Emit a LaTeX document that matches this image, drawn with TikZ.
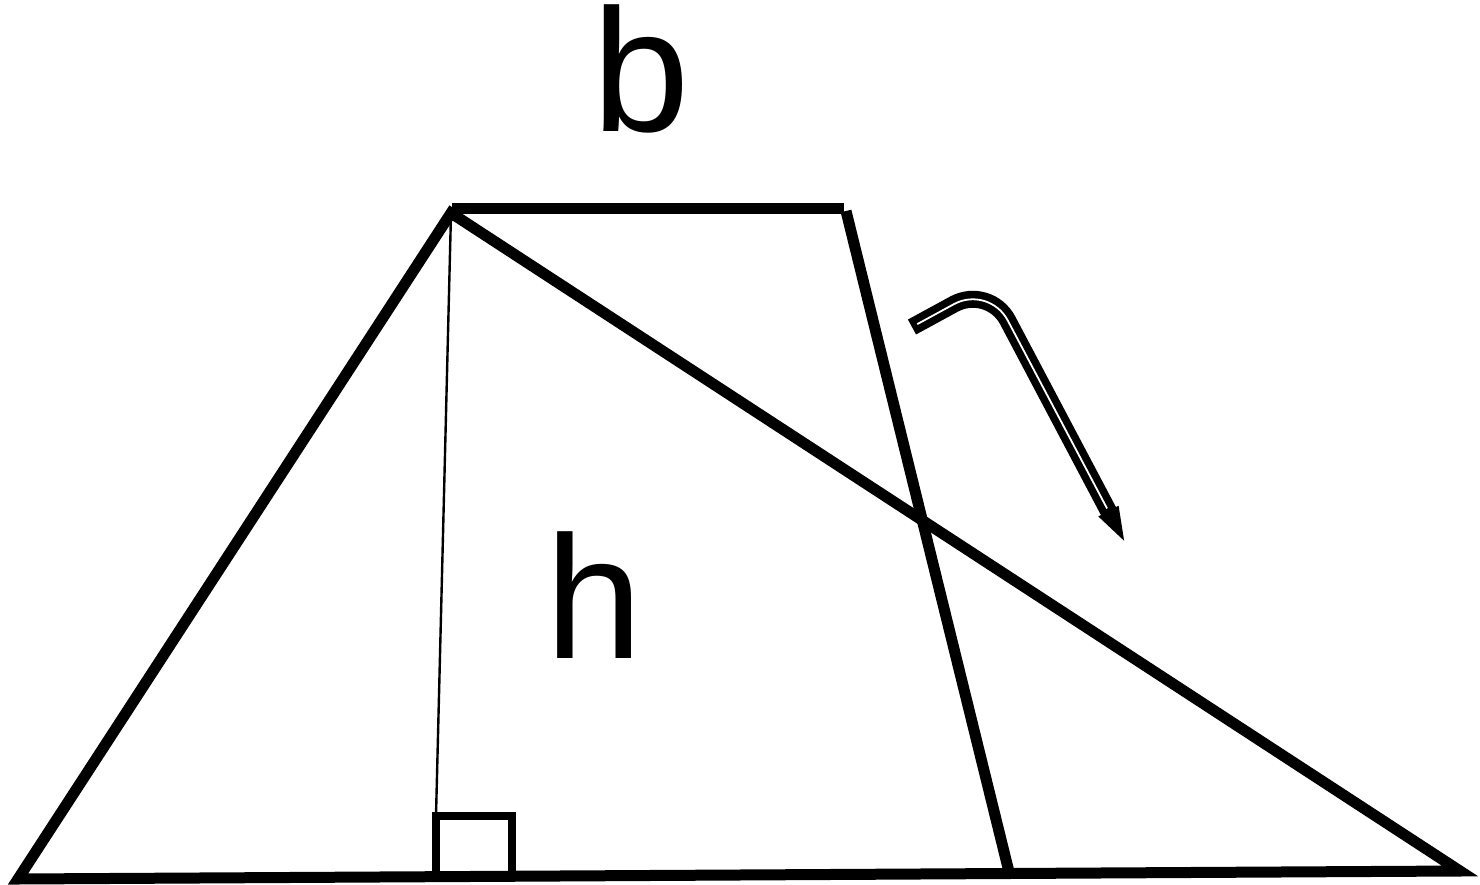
\documentclass[tikz,border=0pt]{standalone}
\usepackage{fontspec}
\setmainfont{Liberation Sans}
\usetikzlibrary{arrows.meta}

\begin{document}
\begin{tikzpicture}[x=1pt,y=-1pt,
  side/.style={line width=11pt},
  heightline/.style={line width=2.4pt},
  corner/.style={line width=8.5pt},
  hint/.style={line width=17pt,rounded corners=40pt},
  lbl/.style={inner sep=0pt,font=\fontsize{175}{175}\selectfont}]
\useasboundingbox (0,0) rectangle (1480,885);
% vertices
\coordinate (A) at (18,879);
\coordinate (B) at (451,213);
\coordinate (C) at (1460,871);
\coordinate (P) at (452,209);
\coordinate (Q) at (844,209);
\coordinate (R) at (846,211);
\coordinate (S) at (1010,876);
\coordinate (F) at (436,816);
% shape
\draw[side,line join=miter] (A) -- (B) -- (C) -- cycle;
\draw[side] (P) -- (Q);
\draw[side] (R) -- (S);
\draw[heightline] (B) -- (F);
\draw[corner] (F) rectangle (512,875);
% labels
\node[lbl] (b) at (641,69) {b};
\node[lbl] (h) at (594,595) {h};
% turning arrow
\coordinate (s) at (912,327);
\coordinate (k) at (989,285);
\coordinate (t) at (1129,550);
\draw[hint,-{Triangle[length=44pt,width=18pt]}] (s) -- (k) -- (t);
\draw[hint,white,line width=1.8pt,shorten <=6pt,shorten >=47pt] (s) -- (k) -- (t);
\end{tikzpicture}
\end{document}
